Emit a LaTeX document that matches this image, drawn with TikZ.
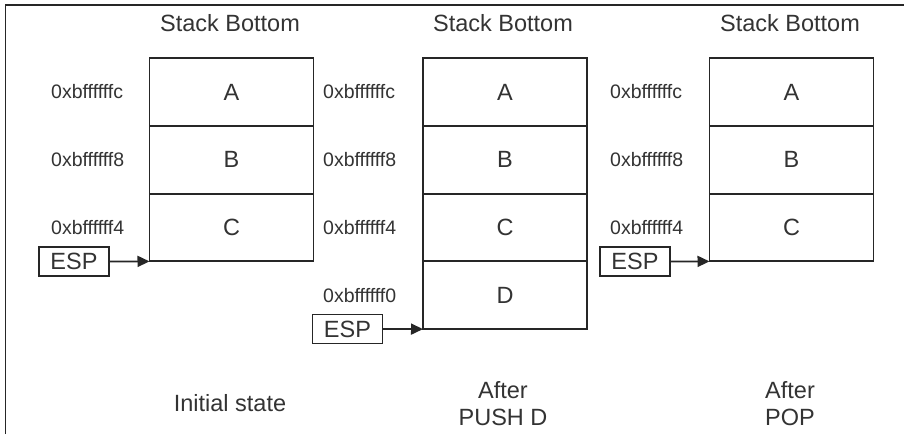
\documentclass[tikz,border=0pt]{standalone}
\usepackage{fontspec}
\setmainfont{Liberation Sans}
\usetikzlibrary{arrows.meta}
\definecolor{ink}{HTML}{262626}
\definecolor{txt}{HTML}{333333}
\tikzset{
  cell/.style={draw=ink, line width=1.8pt, minimum width=164pt, minimum height=67.75pt,
    inner sep=0pt, outer sep=0pt, text=txt, font=\fontsize{23.5}{27}\selectfont},
  addr/.style={anchor=west, inner sep=0pt, text=txt, font=\fontsize{19.5}{22}\selectfont},
  espbox/.style={draw=ink, line width=1.8pt, minimum width=70pt, minimum height=29pt,
    inner sep=0pt, outer sep=0pt, text=txt, font=\fontsize{23.5}{27}\selectfont},
  title/.style={inner sep=0pt, text=txt, font=\fontsize{23.5}{27}\selectfont},
  caption/.style={inner sep=0pt, text=txt, align=center, font=\fontsize{23.5}{27}\selectfont},
  arr/.style={draw=ink, line width=1.8pt, -{Triangle[length=12pt,width=11pt]}},
  frame/.style={draw=ink, line width=1.8pt}
}
\begin{document}
\begin{tikzpicture}[x=1pt,y=-1pt]
\useasboundingbox (0,0) rectangle (904,434);
\draw[frame] (5.5,434) -- (5.5,4.7) -- (904,4.7);

% Stack 1: initial state
\node[title] (t1) at (230,23) {Stack Bottom};
\node[cell] (a1) at (231.5,92) {A};
\node[cell] (b1) at (231.5,159.75) {B};
\node[cell] (c1) at (231.5,227.5) {C};
\node[addr] (la1) at (51,92) {0xbffffffc};
\node[addr] (lb1) at (51,159.75) {0xbffffff8};
\node[addr] (lc1) at (51,227.5) {0xbffffff4};
\node[espbox] (e1) at (74,261.5) {ESP};
\draw[arr] (e1.east) -- (c1.south west);
\node[caption] (cap1) at (230,403) {Initial state};

% Stack 2: after PUSH D
\node[title] (t2) at (503,23) {Stack Bottom};
\node[cell] (a2) at (505,92) {A};
\node[cell] (b2) at (505,159.75) {B};
\node[cell] (c2) at (505,227.5) {C};
\node[cell] (d2) at (505,295.25) {D};
\node[addr] (la2) at (323,92) {0xbffffffc};
\node[addr] (lb2) at (323,159.75) {0xbffffff8};
\node[addr] (lc2) at (323,227.5) {0xbffffff4};
\node[addr] (ld2) at (323,295.25) {0xbffffff0};
\node[espbox] (e2) at (347.5,329) {ESP};
\draw[arr] (e2.east) -- (d2.south west);
\node[caption] (cap2) at (503,403.5) {After\\PUSH D};

% Stack 3: after POP
\node[title] (t3) at (790,23) {Stack Bottom};
\node[cell] (a3) at (791.5,92) {A};
\node[cell] (b3) at (791.5,159.75) {B};
\node[cell] (c3) at (791.5,227.5) {C};
\node[addr] (la3) at (610,92) {0xbffffffc};
\node[addr] (lb3) at (610,159.75) {0xbffffff8};
\node[addr] (lc3) at (610,227.5) {0xbffffff4};
\node[espbox] (e3) at (635,261.5) {ESP};
\draw[arr] (e3.east) -- (c3.south west);
\node[caption] (cap3) at (790,403.5) {After\\POP};
\end{tikzpicture}
\end{document}
